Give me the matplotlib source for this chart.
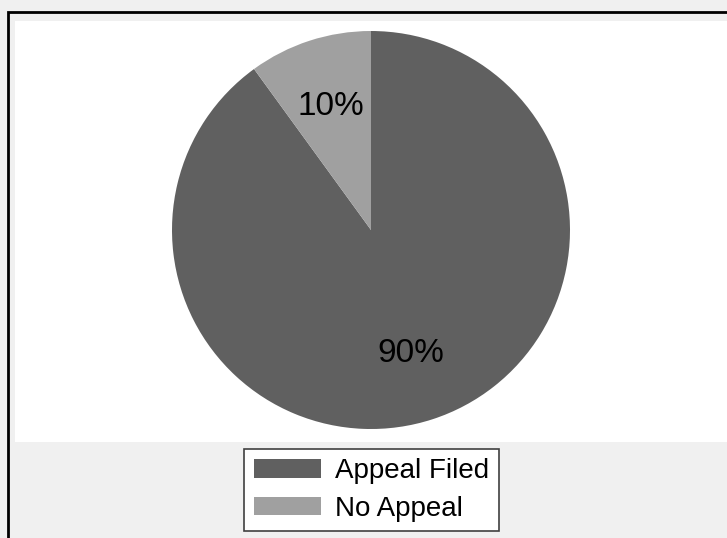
import matplotlib.pyplot as plt
from matplotlib.patches import Rectangle

# Data
labels = ['Appeal Filed', 'No Appeal']
shares = [90, 10]
colors = ['#606060', '#a0a0a0']

W, H = 727, 538
plt.rcParams['font.family'] = ['Liberation Sans', 'DejaVu Sans']

fig = plt.figure(figsize=(W / 100, H / 100), dpi=100, facecolor='#f0f0f0')

# outer black frame (right/bottom run off the canvas)
fig.patches.append(Rectangle((7.5 / W, -0.1), 1.2, 1 - 12.5 / H + 0.1,
                             transform=fig.transFigure, fill=False,
                             edgecolor='black', linewidth=2, zorder=0))

ax = fig.add_axes([15 / W, (H - 442) / H, (W - 15) / W, 421 / H])

wedges, texts, autotexts = ax.pie(shares, colors=colors, startangle=90, counterclock=False,
                                  autopct='%1.0f%%', pctdistance=0.65,
                                  textprops={'fontsize': 24, 'color': 'black'})

ax.set_frame_on(True)
ax.set_facecolor('white')
for s in ax.spines.values():
    s.set_visible(False)
ax.set_xticks([])
ax.set_yticks([])

r_px = 199
ax.set_xlim(-(W - 15) / 2 / r_px, (W - 15) / 2 / r_px)
ax.set_ylim(-421 / 2 / r_px - 0.0075, 421 / 2 / r_px - 0.0075)
ax.set_aspect('equal', adjustable='datalim')

leg = fig.legend(wedges, labels, loc='center', bbox_to_anchor=(371.5 / W, 1 - 490 / H),
                 fontsize=20, fancybox=False, edgecolor='#404040', framealpha=1,
                 handlelength=2.4, handleheight=0.65, handletextpad=0.5,
                 labelspacing=0.4, borderpad=0.35, borderaxespad=0)
leg.get_frame().set_linewidth(1.2)

fig.savefig('out.png', dpi=100, facecolor=fig.get_facecolor())
